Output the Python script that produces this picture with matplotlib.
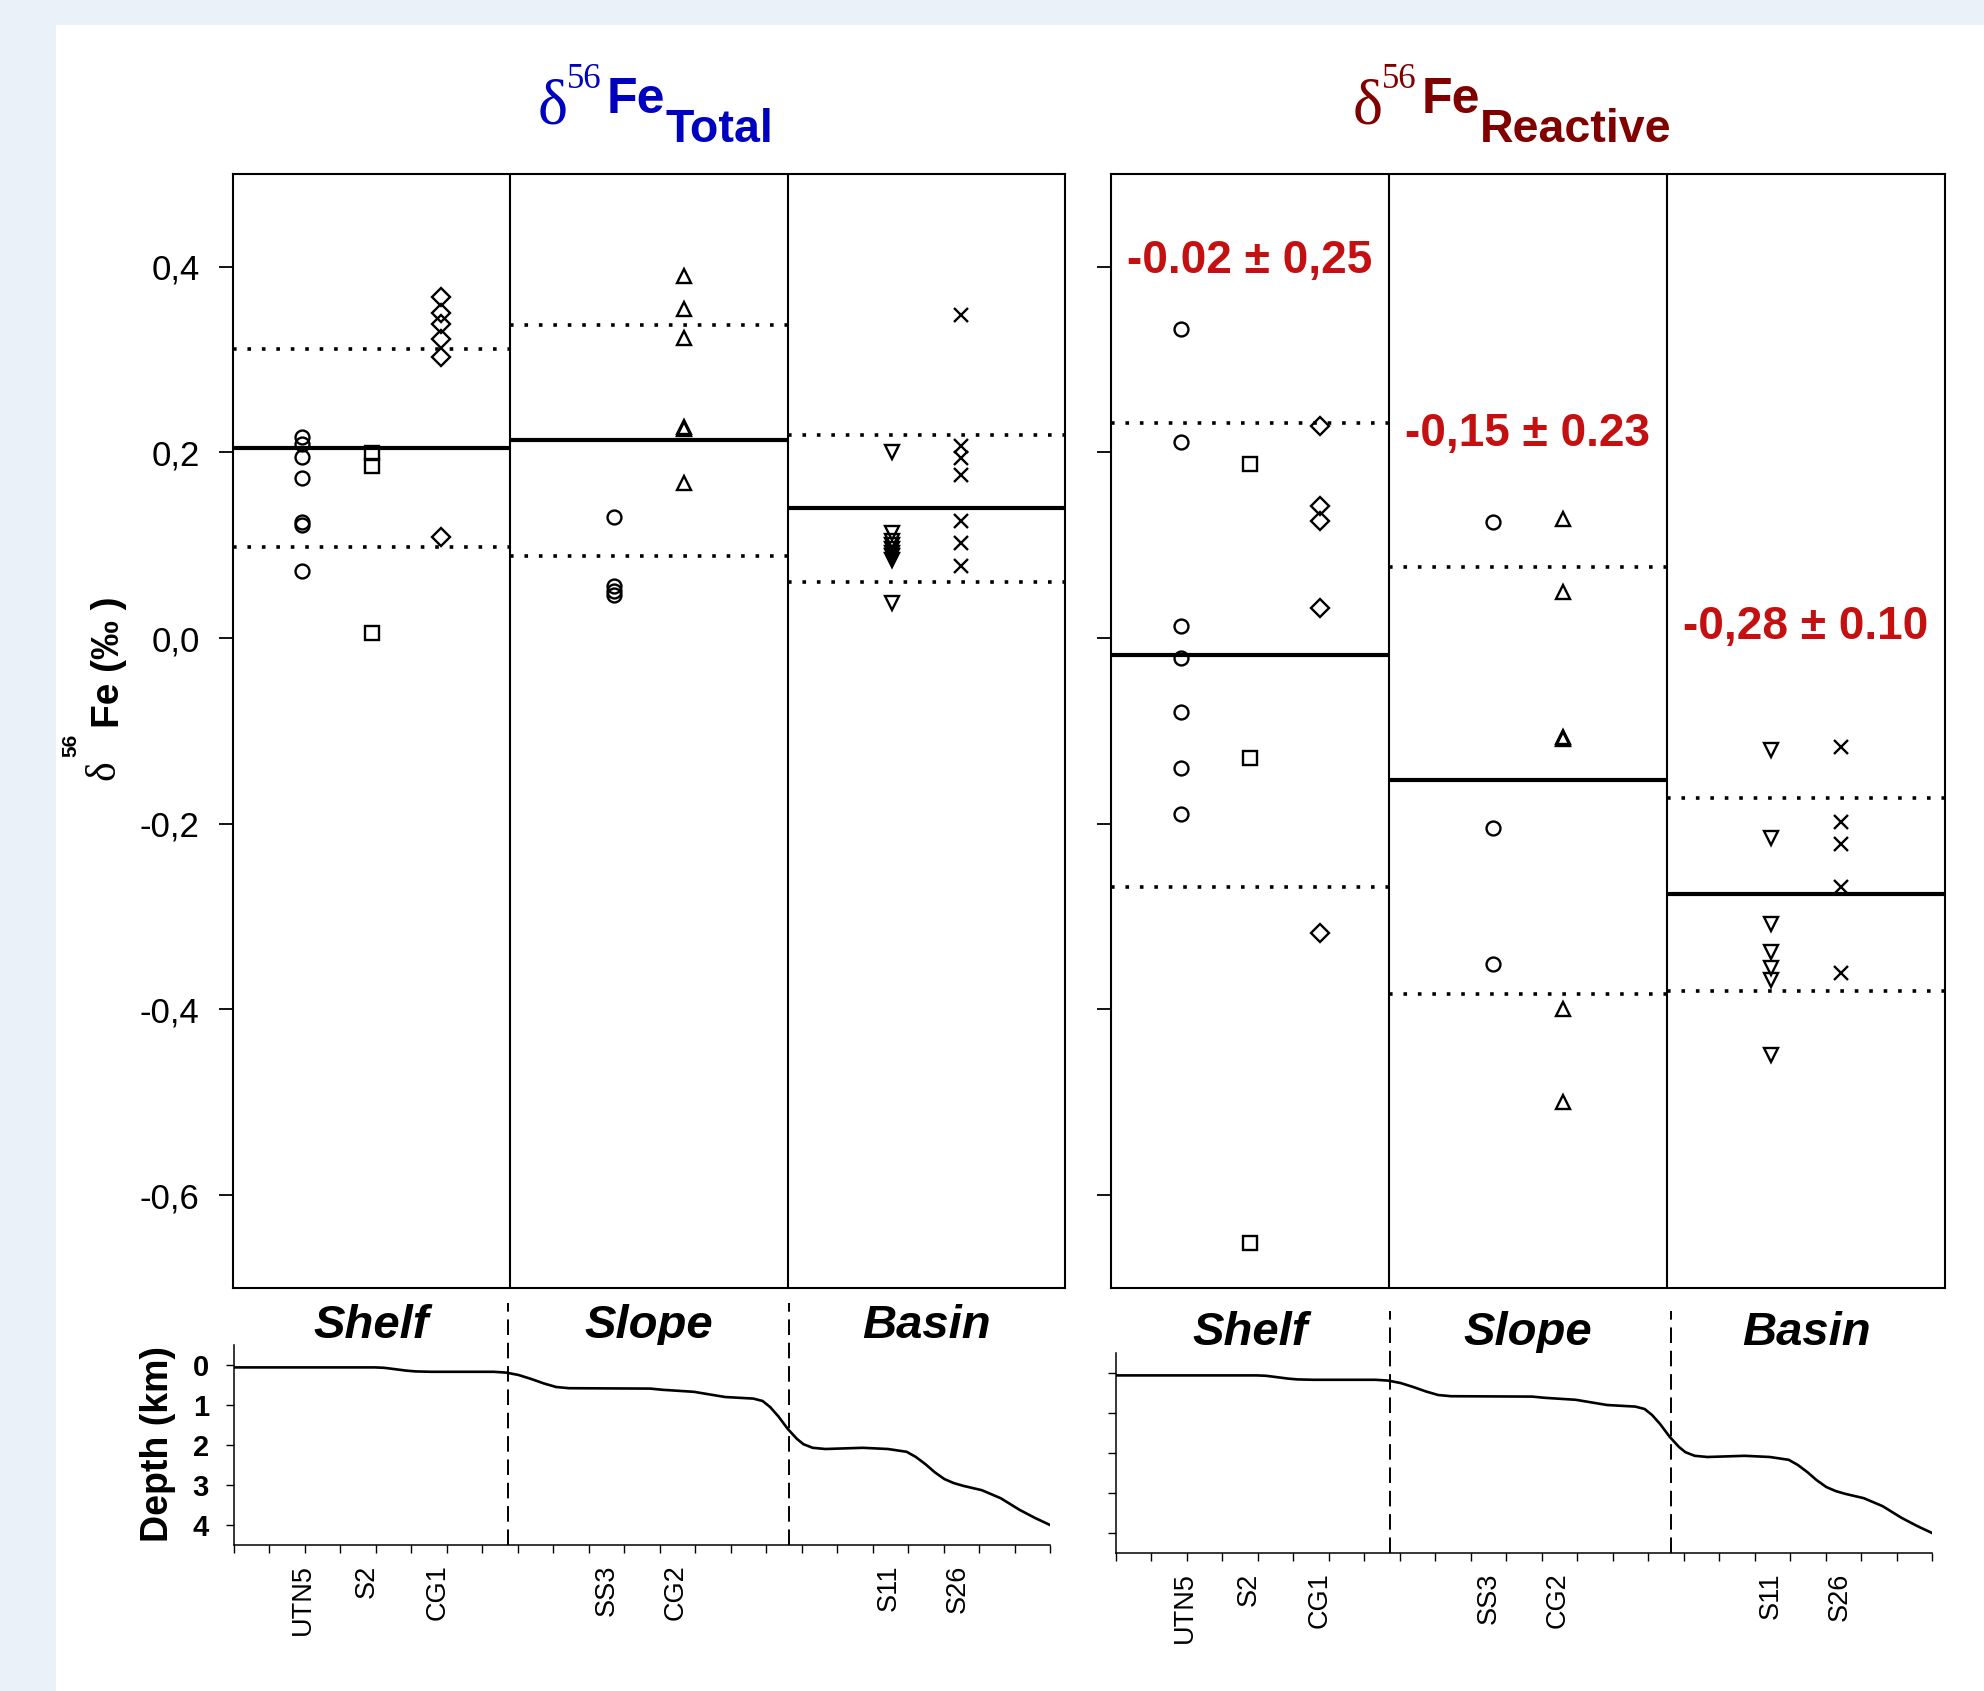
import numpy as np
import matplotlib
matplotlib.use("Agg")
import matplotlib.pyplot as plt
from matplotlib.patches import Rectangle
from matplotlib.transforms import blended_transform_factory

plt.rcParams['font.family'] = ['Liberation Sans', 'DejaVu Sans']

W, H, DPI = 1984, 1691, 100

# ---- data ----
stations = ["UTN5", "S2", "CG1", "SS3", "CG2", "S11", "S26"]
station_x = [0.25, 0.5, 0.75, 1.375, 1.625, 2.375, 2.625]
station_markers = ["o", "s", "D", "o", "^", "v", "x"]
zones = ["Shelf", "Slope", "Basin"]

total_UTN5 = [0.217, 0.209, 0.195, 0.172, 0.125, 0.122, 0.072]
total_S2 = [0.199, 0.185, 0.006]
total_CG1 = [0.367, 0.350, 0.338, 0.322, 0.303, 0.109]
total_SS3 = [0.131, 0.056, 0.051, 0.047]
total_CG2 = [0.390, 0.355, 0.323, 0.228, 0.225, 0.167]
total_S11 = [0.200, 0.113, 0.105, 0.100, 0.096, 0.092, 0.088, 0.084, 0.038]
total_S26 = [0.348, 0.207, 0.194, 0.176, 0.126, 0.103, 0.078]

reactive_UTN5 = [0.333, 0.211, 0.013, -0.021, -0.079, -0.140, -0.189]
reactive_S2 = [0.188, -0.129, -0.652]
reactive_CG1 = [0.229, 0.142, 0.126, 0.033, -0.318]
reactive_SS3 = [0.125, -0.205, -0.351]
reactive_CG2 = [0.128, 0.050, -0.107, -0.109, -0.399, -0.500]
reactive_S11 = [-0.121, -0.215, -0.308, -0.338, -0.355, -0.368, -0.449]
reactive_S26 = [-0.117, -0.198, -0.222, -0.268, -0.361]

total_mean = [0.205, 0.213, 0.140]
total_sd = [0.107, 0.124, 0.079]
reactive_mean = [-0.018, -0.153, -0.276]
reactive_sd = [0.250, 0.230, 0.104]
reactive_text = ["-0.02 \u00b1 0,25", "-0,15 \u00b1 0.23", "-0,28 \u00b1 0.10"]

ytick_vals = [-0.6, -0.4, -0.2, 0.0, 0.2, 0.4]
ytick_labels = ["-0,6", "-0,4", "-0,2", "0,0", "0,2", "0,4"]

# bathymetric profile (distance units along transect, depth in km)
profile_dist = [0, 3.97, 4.23, 4.5, 4.85, 5.11, 5.56, 7.32, 7.67, 8.02, 8.38, 8.73,
                9.08, 9.44, 11.73, 12.08, 12.96, 13.84, 14.64, 14.9, 15.11, 15.34,
                15.61, 15.87, 16.05, 16.31, 16.67, 17.72, 18.43, 18.96, 19.22, 19.49,
                19.75, 20.02, 20.28, 20.55, 21.08, 21.61, 22.14, 22.57, 23.0]
profile_depth = [0.06, 0.06, 0.07, 0.10, 0.14, 0.16, 0.17, 0.17, 0.19, 0.25, 0.35, 0.46,
                 0.55, 0.58, 0.59, 0.62, 0.67, 0.80, 0.84, 0.90, 1.05, 1.28,
                 1.60, 1.85, 1.98, 2.07, 2.10, 2.07, 2.10, 2.17, 2.30, 2.48,
                 2.68, 2.85, 2.95, 3.02, 3.13, 3.33, 3.62, 3.82, 4.00]
profile_station_dist = [1.95, 3.75, 5.75, 10.5, 12.45, 18.45, 20.4]
zone_bounds_dist = [7.72, 15.63]

total_series = [total_UTN5, total_S2, total_CG1, total_SS3, total_CG2, total_S11, total_S26]
reactive_series = [reactive_UTN5, reactive_S2, reactive_CG1, reactive_SS3, reactive_CG2,
                   reactive_S11, reactive_S26]

marker_size = {"o": 10, "s": 9.5, "D": 9, "^": 10.5, "v": 10.5, "x": 10.5}

fig = plt.figure(figsize=(W / DPI, H / DPI), dpi=DPI, facecolor='#EAF1F9')
fig.patches.append(Rectangle((56 / W, 0), 1 - 56 / W, 1 - 25 / H, transform=fig.transFigure,
                             facecolor='white', edgecolor='none', zorder=-10))


def px_axes(x0, y0, x1, y1):
    return fig.add_axes([x0 / W, 1 - y1 / H, (x1 - x0) / W, (y1 - y0) / H])


def draw_iso(ax, series, mean, sd, show_labels, zone_y):
    ax.set_xlim(0, 3)
    ax.set_ylim(-0.7, 0.5)
    for s in ax.spines.values():
        s.set_linewidth(1.5)
    for b in (1, 2):
        ax.axvline(b, color='k', lw=1.5)
    for i, (m, s) in enumerate(zip(mean, sd)):
        ax.plot([i, i + 1], [m, m], color='k', lw=3.0, solid_capstyle='butt')
        for v in (m + s, m - s):
            ax.plot([i, i + 1], [v, v], color='k', lw=2.6, linestyle=(0, (1, 3.0)))
    for x, mk, vals in zip(station_x, station_markers, series):
        ax.plot([x] * len(vals), vals, linestyle='none', marker=mk, ms=marker_size[mk],
                mfc='none', mec='k', mew=1.7)
    ax.set_xticks([])
    ax.set_yticks(ytick_vals)
    if show_labels:
        ax.set_yticklabels(ytick_labels, fontsize=25)
    else:
        ax.set_yticklabels([])
    ax.tick_params(axis='y', length=10, width=1.3, pad=14)
    tr = blended_transform_factory(ax.transData, ax.transAxes)
    for i, z in enumerate(zones):
        ax.text(i + 0.5, zone_y, z, transform=tr, fontsize=34, fontweight='bold',
                fontstyle='italic', ha='center', va='center')


def draw_profile(ax, show_labels):
    ax.plot(profile_dist, profile_depth, color='k', lw=1.9)
    ax.set_xlim(0, 23)
    ax.set_ylim(4.5, -0.5)
    ax.spines['top'].set_visible(False)
    ax.spines['right'].set_visible(False)
    for s in ('left', 'bottom'):
        ax.spines[s].set_linewidth(1.1)
    ax.set_xticks(np.arange(0, 24), minor=True)
    ax.set_xticks(profile_station_dist)
    ax.set_xticklabels(stations, rotation=90, fontsize=19.5)
    ax.tick_params(axis='x', which='major', length=0, pad=14)
    ax.tick_params(axis='x', which='minor', length=6, width=1)
    ax.set_yticks(range(5))
    if show_labels:
        ax.set_yticklabels([str(v) for v in range(5)], fontsize=21, fontweight='bold')
    else:
        ax.set_yticklabels([])
    ax.tick_params(axis='y', length=6, width=1, pad=12)
    for b in zone_bounds_dist:
        ax.plot([b, b], [4.5, -1.55], color='k', lw=1.4, linestyle=(0, (8, 4)), clip_on=False)


ax_tl = px_axes(233, 174, 1065, 1288)
ax_tr = px_axes(1111, 174, 1945, 1288)
ax_bl = px_axes(234, 1345, 1050, 1545)
ax_br = px_axes(1116, 1353, 1932, 1553)

draw_iso(ax_tl, total_series, total_mean, total_sd, True, -0.034)
draw_iso(ax_tr, reactive_series, reactive_mean, reactive_sd, False, -0.040)
draw_profile(ax_bl, True)
draw_profile(ax_br, False)

# annotations in reactive panel
text_y = [0.406, 0.220, 0.012]
for i, (t, y) in enumerate(zip(reactive_text, text_y)):
    ax_tr.text(i + 0.5, y, t, color='#C41010', fontsize=33, fontweight='bold',
               ha='center', va='center')


def fig_text(x, y, s, **kw):
    return fig.text(x / W, 1 - y / H, s, **kw)


# titles
for x0, sub, col in ((538, "Total", '#0000C0'), (1353, "Reactive", '#800000')):
    fig_text(x0, 123, "\u03b4", fontsize=46, family='Liberation Serif', color=col,
             ha='left', va='baseline')
    fig_text(x0 + 29, 88, "56", fontsize=25, family='Liberation Serif', color=col,
             ha='left', va='baseline')
    fig_text(x0 + 69, 113, "Fe", fontsize=36, fontweight='bold', color=col,
             ha='left', va='baseline')
    fig_text(x0 + 127, 142, sub, fontsize=33.5, fontweight='bold', color=col,
             ha='left', va='baseline')

# y label pieces (rotated)
fig_text(114, 780, "\u03b4", fontsize=30, family='Liberation Serif', rotation=90,
         rotation_mode='anchor', ha='left', va='baseline')
fig_text(76, 757, "56", fontsize=15, fontweight='bold', rotation=90,
         rotation_mode='anchor', ha='left', va='baseline')
fig_text(119, 728, "Fe (\u2030 )", fontsize=28, fontweight='bold', rotation=90,
         rotation_mode='anchor', ha='left', va='baseline')

fig_text(158, 1444, "Depth (km)", fontsize=27, fontweight='bold', rotation=90,
         ha='center', va='center')

fig.savefig("out.png", dpi=DPI, facecolor=fig.get_facecolor())
